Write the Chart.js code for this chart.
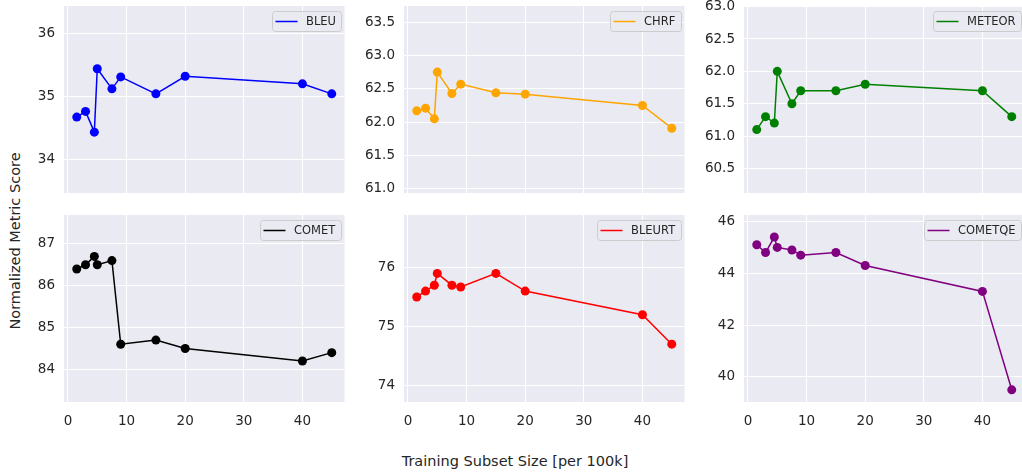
<!DOCTYPE html>
<html>
<head>
<meta charset="utf-8">
<script src="https://cdn.jsdelivr.net/npm/chart.js@4.4.0/dist/chart.umd.min.js"></script>
<style>
  html, body { margin: 0; padding: 0; background: #fff; overflow: hidden; }
  body { width: 1022px; height: 475px; position: relative; font-family: "DejaVu Sans", sans-serif; color: #262626; }
  .panel { position: absolute; }
  .ylabel { position: absolute; left: 15px; top: 241px; transform: translate(-50%, -50%) rotate(-90deg); white-space: nowrap; font-size: 14.5px; }
  .xlabel { position: absolute; left: 515px; top: 461px; transform: translate(-50%, -50%); white-space: nowrap; font-size: 14.5px; }
</style>
</head>
<body>
<div class="ylabel">Normalized Metric Score</div>
<div class="xlabel">Training Subset Size [per 100k]</div>

<script>
// Data
const subsetSizes = [1.5, 3, 4.5, 5, 7.5, 9, 15, 20, 40, 45];
const bleu = [34.67, 34.76, 34.43, 35.44, 35.12, 35.31, 35.04, 35.32, 35.20, 35.04];
const chrf = [62.17, 62.21, 62.05, 62.75, 62.43, 62.57, 62.44, 62.42, 62.25, 61.91];
const meteor = [61.1, 61.3, 61.2, 62.0, 61.5, 61.7, 61.7, 61.8, 61.7, 61.3];
const comet = [86.4, 86.5, 86.7, 86.5, 86.6, 84.6, 84.7, 84.5, 84.2, 84.4];
const bleurt = [75.5, 75.6, 75.7, 75.9, 75.7, 75.67, 75.9, 75.6, 75.2, 74.7];
const cometqe = [45.1, 44.8, 45.4, 45.0, 44.9, 44.7, 44.8, 44.3, 43.3, 39.5];

// Tick labels
const xTicks = [0, 10, 20, 30, 40];
const bleuTicks = [34, 35, 36];
const chrfTicks = [61.0, 61.5, 62.0, 62.5, 63.0, 63.5];
const meteorTicks = [60.5, 61.0, 61.5, 62.0, 62.5, 63.0];
const cometTicks = [84, 85, 86, 87];
const bleurtTicks = [74, 75, 76];
const cometqeTicks = [40, 42, 44, 46];

const panels = [
  { label: "BLEU", values: bleu, ticks: bleuTicks, color: "#0000ff", min: 33.46, max: 36.44, dec: 0, row: 0, col: 0 },
  { label: "CHRF", values: chrf, ticks: chrfTicks, color: "#ffa500", min: 60.94, max: 63.74, dec: 1, row: 0, col: 1 },
  { label: "METEOR", values: meteor, ticks: meteorTicks, color: "#008000", min: 60.12, max: 63.01, dec: 1, row: 0, col: 2 },
  { label: "COMET", values: comet, ticks: cometTicks, color: "#000000", min: 83.22, max: 87.69, dec: 0, row: 1, col: 0 },
  { label: "BLEURT", values: bleurt, ticks: bleurtTicks, color: "#ff0000", min: 73.72, max: 76.89, dec: 0, row: 1, col: 1 },
  { label: "COMETQE", values: cometqe, ticks: cometqeTicks, color: "#800080", min: 39.03, max: 46.25, dec: 0, row: 1, col: 2 },
];

// layout of the plot areas
const plotLefts = [64, 404, 744];
const plotTops = [6, 215];
const plotW = 281;
const plotH = 187;
const axisW = 60;
const padTop = 10;
const xAxisH = 30;

Chart.defaults.font.family = '"DejaVu Sans", sans-serif';
Chart.defaults.font.size = 13.5;
Chart.defaults.color = "#262626";

// seaborn style background
const bgPlugin = {
  id: "bgPlugin",
  beforeDraw(chart) {
    const { ctx, chartArea } = chart;
    ctx.save();
    ctx.fillStyle = "#eaeaf2";
    ctx.fillRect(chartArea.left, chartArea.top, chartArea.right - chartArea.left, chartArea.bottom - chartArea.top);
    ctx.restore();
  },
};

// legend box in the upper right corner
const legendBox = {
  id: "legendBox",
  afterDatasetsDraw(chart) {
    const { ctx, chartArea } = chart;
    const ds = chart.data.datasets[0];
    ctx.save();
    ctx.font = '11.5px "DejaVu Sans", sans-serif';
    const tw = ctx.measureText(ds.label).width;
    const w = Math.round(3.5 + 22 + 8.5 + tw + 5.5);
    const h = 20;
    const x = Math.round(chartArea.right - 3.5 - w);
    const y = Math.round(chartArea.top + 4.5);
    ctx.beginPath();
    ctx.roundRect(x + 0.5, y + 0.5, w, h, 3);
    ctx.fillStyle = "rgba(234,234,242,0.8)";
    ctx.fill();
    ctx.strokeStyle = "#cccccc";
    ctx.lineWidth = 1;
    ctx.stroke();

    ctx.beginPath();
    ctx.moveTo(x + 3.5, y + h / 2 + 0.5);
    ctx.lineTo(x + 25.5, y + h / 2 + 0.5);
    ctx.strokeStyle = ds.borderColor;
    ctx.lineWidth = 1.5;
    ctx.stroke();

    ctx.fillStyle = "#262626";
    ctx.textBaseline = "middle";
    ctx.fillText(ds.label, x + 34, y + h / 2 + 1);
    ctx.restore();
  },
};

panels.forEach((p) => {
  const bottomRow = p.row === 1;
  const canvasW = axisW + plotW + 4;
  const canvasH = padTop + plotH + (bottomRow ? xAxisH : 10);

  const wrap = document.createElement("div");
  wrap.className = "panel";
  wrap.style.left = plotLefts[p.col] - axisW + "px";
  wrap.style.top = plotTops[p.row] - padTop + "px";
  wrap.style.width = canvasW + "px";
  wrap.style.height = canvasH + "px";
  const canvas = document.createElement("canvas");
  wrap.appendChild(canvas);
  document.body.appendChild(wrap);

  new Chart(canvas, {
    type: "line",
    data: {
      datasets: [
        {
          label: p.label,
          data: subsetSizes.map((x, i) => ({ x: x, y: p.values[i] })),
          borderColor: p.color,
          backgroundColor: p.color,
          borderWidth: 1.5,
          pointRadius: 4.5,
          pointHoverRadius: 4.5,
          pointBorderWidth: 0,
          pointBackgroundColor: p.color,
          tension: 0,
        },
      ],
    },
    options: {
      responsive: true,
      maintainAspectRatio: false,
      animation: false,
      layout: { padding: { top: padTop, right: 4, left: 0, bottom: bottomRow ? 0 : 10 } },
      plugins: { legend: { display: false }, tooltip: { enabled: false } },
      scales: {
        x: {
          type: "linear",
          min: -0.675,
          max: 47.175,
          afterBuildTicks: (axis) => { axis.ticks = xTicks.map((v) => ({ value: v })); },
          afterFit: (axis) => {
            axis.height = bottomRow ? xAxisH : 0;
            axis.paddingLeft = 0;
            axis.paddingRight = 0;
          },
          grid: { color: "#ffffff", lineWidth: 1, drawTicks: false },
          border: { display: false },
          ticks: { display: bottomRow, padding: 11, maxRotation: 0 },
        },
        y: {
          min: p.min,
          max: p.max,
          afterBuildTicks: (axis) => { axis.ticks = p.ticks.map((v) => ({ value: v })); },
          afterFit: (axis) => {
            axis.width = axisW;
            axis.paddingTop = 0;
            axis.paddingBottom = 0;
          },
          grid: { color: "#ffffff", lineWidth: 1, drawTicks: false },
          border: { display: false },
          ticks: { padding: 9, callback: (v) => Number(v).toFixed(p.dec) },
        },
      },
    },
    plugins: [bgPlugin, legendBox],
  });
});
</script>
</body>
</html>
